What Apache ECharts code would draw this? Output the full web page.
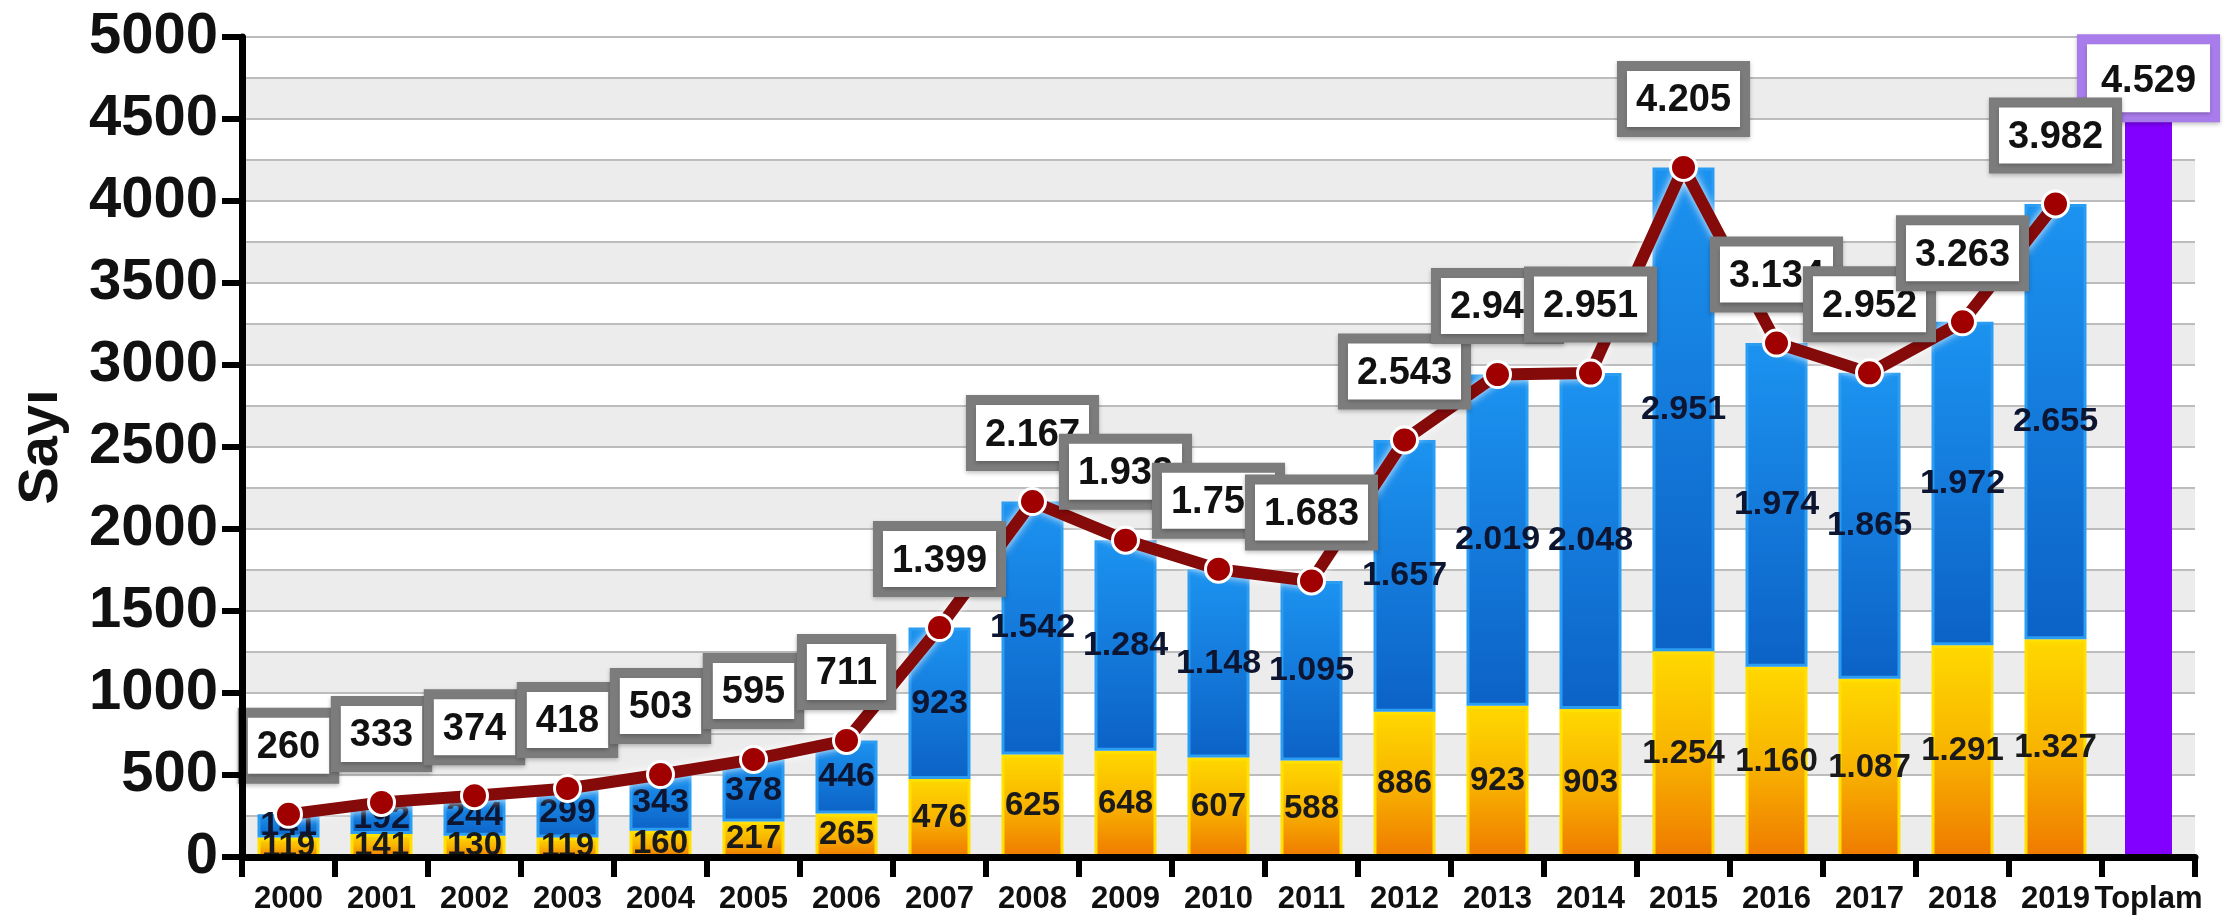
<!DOCTYPE html>
<html>
<head>
<meta charset="utf-8">
<script src="https://cdn.jsdelivr.net/npm/echarts@6/dist/echarts.min.js"></script>
<style>
html,body{margin:0;padding:0;background:#fff;}
#chart{width:2236px;height:920px;}
</style>
</head>
<body>
<div id="chart"></div>
<script>
const categories = ['2000','2001','2002','2003','2004','2005','2006','2007','2008','2009','2010','2011','2012','2013','2014','2015','2016','2017','2018','2019','Toplam'];
const yellowValues = [119,141,130,119,160,217,265,476,625,648,607,588,886,923,903,1254,1160,1087,1291,1327,'-'];
const blueValues = [141,192,244,299,343,378,446,923,1542,1284,1148,1095,1657,2019,2048,2951,1974,1865,1972,2655,'-'];
const totalValues = [260,333,374,418,503,595,711,1399,2167,1932,1755,1683,2543,2942,2951,4205,3134,2952,3263,3982,'-'];
const toplamValues = ['-','-','-','-','-','-','-','-','-','-','-','-','-','-','-','-','-','-','-','-',4529];
const yAxisName = 'Sayı';

function fmt(v){
  v = Number(v);
  if (v >= 1000) return Math.floor(v/1000) + '.' + String(v % 1000).padStart(3,'0');
  return String(v);
}

const FONT = 'Liberation Sans, Arial, sans-serif';
const chart = echarts.init(document.getElementById('chart'));

const boxLabel = (border) => ({
  show: true,
  position: 'top',
  distance: 26,
  formatter: p => fmt(p.value),
  fontFamily: FONT,
  fontWeight: 'bold',
  fontSize: 38,
  color: '#111',
  backgroundColor: '#fff',
  borderColor: border,
  borderWidth: 10,
  padding: [11, 9, 7, 9],
  shadowColor: 'rgba(0,0,0,0.25)',
  shadowBlur: 4,
  shadowOffsetY: 2
});

const option = {
  backgroundColor: '#fff',
  animation: false,
  grid: { left: 242, right: 41, top: 37, bottom: 63, containLabel: false },
  xAxis: [
    {
      type: 'category',
      data: categories,
      boundaryGap: true,
      axisLine: { show: true, lineStyle: { color: '#000', width: 7 } },
      axisTick: { show: true, length: 20, lineStyle: { color: '#000', width: 6 } },
      axisLabel: { fontFamily: FONT, fontWeight: 'bold', fontSize: 31, color: '#111', margin: 27, interval: 0 },
      z: 10
    },
    {
      type: 'category',
      data: categories,
      show: false
    }
  ],
  yAxis: [
    {
      type: 'value',
      min: 0, max: 5000, interval: 500,
      name: yAxisName,
      nameLocation: 'middle',
      nameGap: 172,
      nameTextStyle: { fontFamily: FONT, fontWeight: 'bold', fontSize: 56, color: '#111' },
      axisLine: { show: true, lineStyle: { color: '#000', width: 7 } },
      axisTick: { show: true, length: 20, lineStyle: { color: '#000', width: 6 } },
      axisLabel: { fontFamily: FONT, fontWeight: 'bold', fontSize: 58, color: '#111', margin: 24, formatter: v => String(v) },
      splitLine: { show: false },
      z: 10
    },
    {
      type: 'value',
      min: 0, max: 5000, interval: 250,
      position: 'left',
      axisLine: { show: false },
      axisTick: { show: false },
      axisLabel: { show: false },
      splitLine: { show: true, lineStyle: { color: '#bcbcbc', width: 2 } },
      splitArea: { show: true, areaStyle: { color: ['#ececec', '#ffffff'] } }
    }
  ],
  series: [
    {
      name: 'yellow',
      type: 'bar',
      stack: 'a',
      barWidth: 62,
      data: yellowValues,
      itemStyle: {
        color: new echarts.graphic.LinearGradient(0, 0, 0, 1, [
          { offset: 0, color: '#ffd800' },
          { offset: 0.5, color: '#f8b400' },
          { offset: 1, color: '#ef7a00' }
        ]),
        borderColor: '#ffe000',
        borderWidth: 3
      },
      label: {
        show: true, position: 'inside', formatter: p => fmt(p.value),
        fontFamily: FONT, fontWeight: 'bold', fontSize: 33, color: '#1a1a1a'
      },
      z: 2
    },
    {
      name: 'blue',
      type: 'bar',
      stack: 'a',
      data: blueValues,
      itemStyle: {
        color: new echarts.graphic.LinearGradient(0, 0, 0, 1, [
          { offset: 0, color: '#1c93f0' },
          { offset: 1, color: '#0c62c6' }
        ]),
        borderColor: '#2a9cf2',
        borderWidth: 3
      },
      label: {
        show: true, position: 'inside', formatter: p => fmt(p.value),
        fontFamily: FONT, fontWeight: 'bold', fontSize: 34, color: '#0d1530'
      },
      z: 2
    },
    {
      name: 'toplam',
      type: 'bar',
      xAxisIndex: 1,
      barWidth: 47,
      data: toplamValues,
      itemStyle: { color: '#8200ff' },
      label: Object.assign(boxLabel('#a97cec'), { distance: 2, padding: [18, 14, 12, 14] }),
      z: 3
    },
    {
      name: 'total',
      type: 'line',
      data: totalValues,
      symbol: 'circle',
      symbolSize: 26,
      lineStyle: { color: '#850a0a', width: 12, shadowColor: 'rgba(255,255,255,0.95)', shadowBlur: 8 },
      itemStyle: { color: '#a00000', borderColor: '#fff', borderWidth: 3 },
      label: boxLabel('#7c7c7c'),
      z: 5
    }
  ]
};
chart.setOption(option);
</script>
</body>
</html>
